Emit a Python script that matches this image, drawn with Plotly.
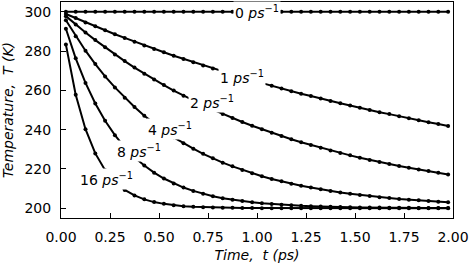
import plotly.graph_objects as go

# time grid (ps)
time_ps = [0.025, 0.075, 0.125, 0.175, 0.225, 0.275, 0.325, 0.375, 0.425, 0.475,
           0.525, 0.575, 0.625, 0.675, 0.725, 0.775, 0.825, 0.875, 0.925, 0.975,
           1.025, 1.075, 1.125, 1.175, 1.225, 1.275, 1.325, 1.375, 1.425, 1.475,
           1.525, 1.575, 1.625, 1.675, 1.725, 1.775, 1.825, 1.875, 1.925, 1.975]

temp_0 = [300.0] * 40
temp_1 = [298.9, 296.8, 294.6, 292.6, 290.6, 288.6, 286.7, 284.8, 282.9, 281.1,
          279.4, 277.6, 276.0, 274.3, 272.7, 271.1, 269.6, 268.0, 266.6, 265.1,
          263.7, 262.3, 261.0, 259.6, 258.3, 257.1, 255.8, 254.6, 253.4, 252.3,
          251.1, 250.0, 248.9, 247.9, 246.8, 245.8, 244.8, 243.8, 242.9, 241.9]
temp_2 = [297.8, 293.5, 289.5, 285.6, 281.9, 278.3, 274.9, 271.6, 268.5, 265.5,
          262.7, 259.9, 257.3, 254.8, 252.5, 250.2, 248.0, 245.9, 243.9, 242.0,
          240.2, 238.4, 236.7, 235.1, 233.6, 232.2, 230.8, 229.4, 228.1, 226.9,
          225.7, 224.6, 223.5, 222.5, 221.5, 220.6, 219.7, 218.9, 218.0, 217.2]
temp_4 = [295.7, 287.6, 280.2, 273.4, 267.1, 261.5, 256.3, 251.5, 247.1, 243.1,
          239.5, 236.1, 233.1, 230.3, 227.7, 225.4, 223.2, 221.3, 219.5, 217.8,
          216.3, 214.9, 213.7, 212.5, 211.4, 210.5, 209.6, 208.8, 208.0, 207.3,
          206.7, 206.2, 205.6, 205.2, 204.7, 204.3, 204.0, 203.6, 203.3, 203.0]
temp_8 = [291.4, 276.3, 263.8, 253.3, 244.5, 237.2, 231.0, 225.9, 221.7, 218.1,
          215.1, 212.6, 210.5, 208.8, 207.4, 206.1, 205.1, 204.3, 203.6, 203.0,
          202.5, 202.1, 201.7, 201.5, 201.2, 201.0, 200.8, 200.7, 200.6, 200.5,
          200.4, 200.3, 200.3, 200.2, 200.2, 200.2, 200.1, 200.1, 200.1, 200.1]
temp_16 = [283.3, 257.8, 240.2, 227.9, 219.3, 213.4, 209.3, 206.5, 204.5, 203.1,
           202.2, 201.5, 201.0, 200.7, 200.5, 200.3, 200.2, 200.2, 200.1, 200.1,
           200.0, 200.0, 200.0, 200.0, 200.0, 200.0, 200.0, 200.0, 200.0, 200.0,
           200.0, 200.0, 200.0, 200.0, 200.0, 200.0, 200.0, 200.0, 200.0, 200.0]

series = [temp_0, temp_1, temp_2, temp_4, temp_8, temp_16]
rate_labels = ["0", "1", "2", "4", "8", "16"]
# inline label positions (time, temperature)
label_t = [1.0, 0.923, 0.768, 0.556, 0.398, 0.230]
label_T = [300.0, 266.7, 254.3, 240.5, 228.9, 215.1]

x_ticks = [0.0, 0.25, 0.5, 0.75, 1.0, 1.25, 1.5, 1.75, 2.0]
x_ticktext = ["0.00", "0.25", "0.50", "0.75", "1.00", "1.25", "1.50", "1.75", "2.00"]
y_ticks = [200, 220, 240, 260, 280, 300]

FONT = "DejaVu Sans"

fig = go.Figure()
for vals, lab in zip(series, rate_labels):
    fig.add_trace(go.Scatter(
        x=time_ps, y=vals, mode="lines+markers", name=lab + " ps-1",
        line=dict(color="black", width=2),
        marker=dict(color="black", size=4),
        showlegend=False, hoverinfo="skip"))

for lab, lt, lT in zip(rate_labels, label_t, label_T):
    fig.add_annotation(
        x=lt, y=lT, xref="x", yref="y",
        text=lab + " <i>ps</i><sup>\u22121</sup>",
        showarrow=False, xanchor="center", yanchor="middle",
        bgcolor="white", borderpad=1,
        font=dict(family=FONT, size=14, color="black"))

axis_common = dict(
    showline=True, linecolor="black", linewidth=1, mirror=True,
    ticks="inside", ticklen=5, tickwidth=1, tickcolor="black",
    showgrid=False, zeroline=False, automargin=False,
    tickfont=dict(family=FONT, size=14, color="black"),
)

fig.update_xaxes(
    range=[0, 2], tickvals=x_ticks, ticktext=x_ticktext,
    ticklabelstandoff=6,
    title=dict(text="<i>Time,  t (ps)</i>", standoff=6,
               font=dict(family=FONT, size=14, color="black")),
    **axis_common)
fig.update_yaxes(
    range=[195, 305], tickvals=y_ticks,
    ticklabelstandoff=6,
    title=dict(text="<i>Temperature,  T (K)</i>", standoff=8,
               font=dict(family=FONT, size=14, color="black")),
    **axis_common)

fig.update_layout(
    width=470, height=263,
    margin=dict(l=61, r=17, t=2, b=45),
    paper_bgcolor="white", plot_bgcolor="white",
    font=dict(family=FONT, size=14, color="black"),
)

fig.write_html("out.html",
               config={"displayModeBar": False, "staticPlot": True},
               post_script="document.body.style.margin='0';document.body.style.overflow='hidden';")
